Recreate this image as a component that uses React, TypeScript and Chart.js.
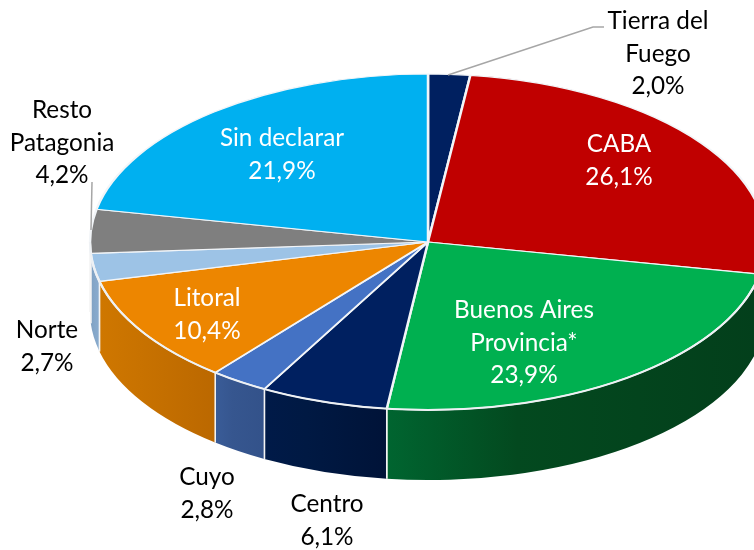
import React, { useEffect, useRef } from "react";
import { Chart, registerables } from "chart.js";

Chart.register(...registerables);

const categories = [
  "Tierra del Fuego",
  "CABA",
  "Buenos Aires Provincia*",
  "Centro",
  "Cuyo",
  "Litoral",
  "Norte",
  "Resto Patagonia",
  "Sin declarar",
];
const shares = [2.0, 26.1, 23.9, 6.1, 2.8, 10.4, 2.7, 4.2, 21.9];
const topColors = ["#002060", "#C00000", "#00B050", "#002060", "#4472C4", "#ED8600", "#9DC3E6", "#7F7F7F", "#00B0F0"];
const wallStops = [
  ["#001a4a", "#001438", "#001438"],
  ["#8a0000", "#800000", "#700000"],
  ["#006530", "#03491f", "#033f1b"],
  ["#001a48", "#001943", "#001338"],
  ["#3a5c98", "#36568f", "#33528a"],
  ["#cf7700", "#c87200", "#bb6800"],
  ["#7e9fc0", "#84a6c8", "#8aaccf"],
  ["#666666", "#666666", "#666666"],
  ["#0090c5", "#0090c5", "#0090c5"],
];
const labelLines = [
  ["Tierra del", "Fuego"],
  ["CABA"],
  ["Buenos Aires", "Provincia*"],
  ["Centro"],
  ["Cuyo"],
  ["Litoral"],
  ["Norte"],
  ["Resto", "Patagonia"],
  ["Sin declarar"],
];
const labelColors = ["#000", "#fff", "#fff", "#000", "#000", "#fff", "#000", "#000", "#fff"];
// first-line centre of each label, in canvas pixels
const labelAnchors = [
  [658, 21], [619, 144], [524, 310], [327, 504], [207, 477], [207, 298], [47, 330], [62, 110], [282, 138],
];
const leaders = [
  [[448, 75], [593, 27], [604, 27]],
  [[92, 182], [91, 230]],
];

const RADIUS = 338;
const SQUASH = 168 / 338;
const DEPTH = 70;
const FONT = '24.3px Lato, "Open Sans", sans-serif';
const LINE = 32.7;

const pie3d = {
  id: "pie3d",
  beforeDatasetsDraw(chart: any) {
    const { ctx } = chart;
    const arcs = chart.getDatasetMeta(0).data;
    arcs.forEach((arc: any, i: number) => {
      const from = Math.max(arc.startAngle, 0);
      const to = Math.min(arc.endAngle, Math.PI);
      if (to <= from) return;
      const rx = arc.outerRadius;
      const ry = rx * SQUASH;
      const x0 = arc.x + rx * Math.cos(to);
      const x1 = arc.x + rx * Math.cos(from);
      const g = ctx.createLinearGradient(x0, 0, x1, 0);
      g.addColorStop(0, wallStops[i][0]);
      g.addColorStop(0.35, wallStops[i][1]);
      g.addColorStop(1, wallStops[i][2]);
      ctx.save();
      ctx.beginPath();
      ctx.ellipse(arc.x, arc.y, rx, ry, 0, from, to);
      ctx.ellipse(arc.x, arc.y + DEPTH, rx, ry, 0, to, from, true);
      ctx.closePath();
      ctx.fillStyle = g;
      ctx.strokeStyle = "#f4f4f4";
      ctx.lineWidth = 1.5;
      ctx.fill();
      ctx.beginPath();
      [from, to].forEach((a) => {
        const px = arc.x + rx * Math.cos(a);
        const py = arc.y + ry * Math.sin(a);
        ctx.moveTo(px, py);
        ctx.lineTo(px, py + DEPTH);
      });
      ctx.stroke();
      ctx.restore();
    });
    const first = arcs[0];
    ctx.save();
    ctx.translate(first.x, first.y);
    ctx.scale(1, SQUASH);
    ctx.translate(-first.x, -first.y);
  },
  afterDatasetsDraw(chart: any) {
    const { ctx } = chart;
    ctx.restore();
    const first = chart.getDatasetMeta(0).data[0];
    ctx.save();
    // light rim where the top face meets the front wall
    ctx.strokeStyle = "#eef1f4";
    ctx.lineWidth = 2;
    ctx.beginPath();
    ctx.ellipse(first.x, first.y, first.outerRadius, first.outerRadius * SQUASH, 0, 0, Math.PI);
    ctx.stroke();
    ctx.strokeStyle = "#a6a6a6";
    ctx.lineWidth = 1.5;
    leaders.forEach((pts) => {
      ctx.beginPath();
      pts.forEach(([x, y], k) => (k ? ctx.lineTo(x, y) : ctx.moveTo(x, y)));
      ctx.stroke();
    });
    ctx.font = FONT;
    ctx.textAlign = "center";
    ctx.textBaseline = "middle";
    categories.forEach((_, i) => {
      const lines = [...labelLines[i], shares[i].toFixed(1).replace(".", ",") + "%"];
      ctx.fillStyle = labelColors[i];
      lines.forEach((t, k) => ctx.fillText(t, labelAnchors[i][0], labelAnchors[i][1] + k * LINE));
    });
    ctx.restore();
  },
};

export default function App() {
  const ref = useRef<HTMLCanvasElement>(null);
  useEffect(() => {
    const chart = new Chart(ref.current!, {
      type: "pie",
      data: {
        labels: categories,
        datasets: [
          {
            data: shares,
            backgroundColor: topColors,
            borderColor: "#f2f5f8",
            borderWidth: 2.5,
            radius: RADIUS,
            clip: false,
          } as any,
        ],
      },
      options: {
        animation: false,
        responsive: false,
        layout: { padding: { left: 102, bottom: 66 } },
        plugins: { legend: { display: false }, tooltip: { enabled: false } },
      },
      plugins: [pie3d],
    });
    return () => chart.destroy();
  }, []);
  return (
    <canvas
      ref={ref}
      width={754}
      height={550}
      style={{ position: "absolute", left: 0, top: 0, width: 754, height: 550 }}
    />
  );
}
